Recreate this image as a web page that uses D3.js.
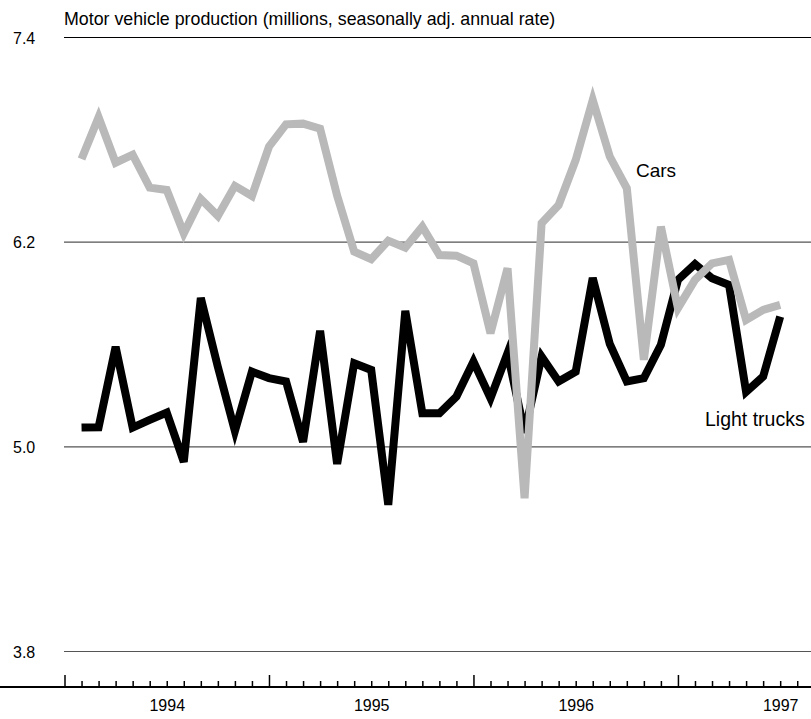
<!DOCTYPE html>
<html><head><meta charset="utf-8">
<script src="https://cdn.jsdelivr.net/npm/d3@7"></script>
<style>body{margin:0;background:#fff} svg text{font-family:"Liberation Sans",Arial,sans-serif;fill:#000}</style>
</head><body><svg id="c" width="811" height="719"></svg>
<script>
// month index: 0 = Jan 1994
const months = d3.range(1, 43);
const cars = [6.685,6.93,6.663,6.71,6.517,6.503,6.249,6.45,6.351,6.527,6.468,6.757,6.888,6.892,6.862,6.47,6.142,6.097,6.206,6.165,6.288,6.122,6.118,6.073,5.663,6.044,4.696,6.308,6.415,6.679,7.031,6.699,6.513,5.507,6.288,5.81,5.976,6.073,6.093,5.741,5.8,5.829];
const trucks = [5.11,5.112,5.583,5.11,5.155,5.198,4.909,5.87,5.466,5.09,5.438,5.40,5.38,5.026,5.677,4.897,5.487,5.448,4.657,5.794,5.194,5.194,5.292,5.497,5.282,5.546,5.08,5.526,5.38,5.438,5.987,5.6,5.38,5.40,5.595,5.976,6.069,5.985,5.946,5.319,5.409,5.76];
const yTicks = [3.8, 5.0, 6.2, 7.4];
const yearTicks = [6, 18, 30, 42];
const yearLabels = ["1994","1995","1996","1997"];
const title = "Motor vehicle production (millions, seasonally adj. annual rate)";

const W = 811, left = 64, axisY = 687;
const svg = d3.select("#c");
const x = d3.scaleLinear().domain([0, 48]).range([64.5, 64.5 + 48 * 17.04]);
const y = d3.scaleLinear().domain([3.8, 7.4]).range([651, 37]);

// title
svg.append("text").attr("x", 64).attr("y", 25).attr("font-size", 17.8).text(title);

// y grid + labels
const gy = svg.append("g").attr("transform", `translate(${left},0)`)
  .call(d3.axisLeft(y).tickValues(yTicks).tickFormat(d3.format(".1f")).tickSize(-(W - left)).tickPadding(0));
gy.select(".domain").remove();
gy.selectAll(".tick line").attr("stroke", d => d === 7.4 ? "#000" : "#555").attr("stroke-width", 1.2);
gy.selectAll(".tick text").attr("x", 13 - left).attr("text-anchor", "start").attr("font-size", 16).attr("dy", "0.38em");

// lines
const line = d3.line().x((d, i) => x(months[i])).y(d => y(d));
svg.append("path").datum(trucks).attr("d", line).attr("fill", "none").attr("stroke", "#000").attr("stroke-width", 8);
svg.append("path").datum(cars).attr("d", line).attr("fill", "none").attr("stroke", "#b9b9b9").attr("stroke-width", 8);

// series labels
svg.append("text").attr("x", 636).attr("y", 177).attr("font-size", 19).text("Cars");
svg.append("text").attr("x", 705).attr("y", 426).attr("font-size", 19.5).text("Light trucks");

// x axis
const gx = svg.append("g").attr("transform", `translate(0,${axisY})`)
  .call(d3.axisTop(x).tickValues(d3.range(0, 49)).tickFormat("").tickSizeInner(6).tickSizeOuter(0));
gx.select(".domain").remove();
gx.selectAll(".tick line").attr("stroke", "#000").attr("stroke-width", 1.5)
  .attr("y2", d => d % 12 === 0 ? -12 : -6);
svg.append("line").attr("x1", 0).attr("x2", W).attr("y1", axisY).attr("y2", axisY)
  .attr("stroke", "#000").attr("stroke-width", 2);

const gl = svg.append("g").attr("transform", `translate(0,${axisY})`)
  .call(d3.axisBottom(x).tickValues(yearTicks).tickFormat((d, i) => yearLabels[i]).tickSize(0).tickPadding(13));
gl.select(".domain").remove();
gl.selectAll(".tick text").attr("font-size", 16);
</script></body></html>
